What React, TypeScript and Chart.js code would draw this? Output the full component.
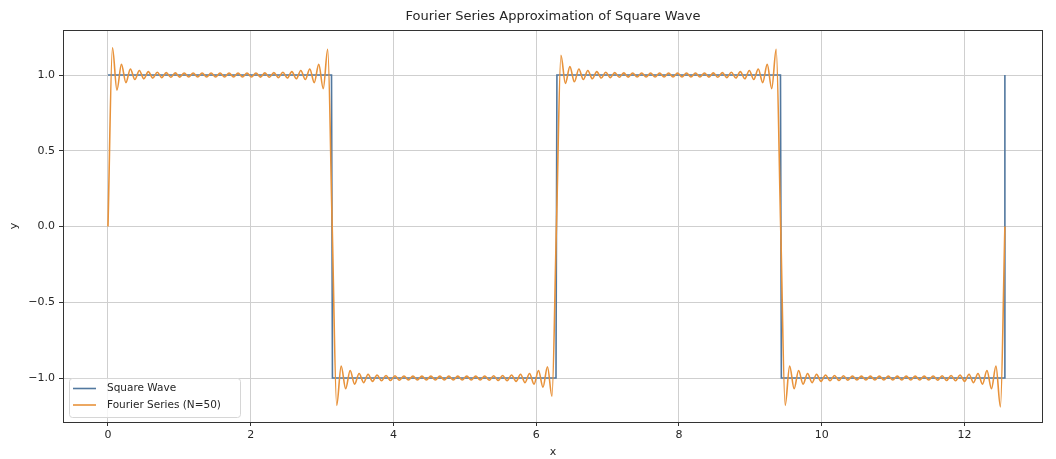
import React, { useEffect, useRef } from "react";
import { Chart, registerables } from "chart.js";

Chart.register(...registerables);

const TITLE = "Fourier Series Approximation of Square Wave";
const X_LABEL = "x";
const Y_LABEL = "y";
const SERIES_NAMES = ["Square Wave", "Fourier Series (N=50)"];
const X_TICKS = [0, 2, 4, 6, 8, 10, 12];
const Y_TICKS = [-1, -0.5, 0, 0.5, 1];
const X_MIN = -0.63;
const X_MAX = 13.1;
const Y_MIN = -1.29;
const Y_MAX = 1.297;

// Square wave: breakpoints
const squareX = [0, 3.132, 3.145, 6.277, 6.29, 9.422, 9.434, 12.554, 12.566];
const squareY = [1, 1, -1, -1, 1, 1, -1, -1, 1];

// Fourier series: ripple extrema, one sample every π/50
const FOURIER_STEP = Math.PI / 50;
const fourierSeg1 = [
  0, 1.18, 0.9, 1.07, 0.95, 1.04, 0.97, 1.03, 0.975, 1.022, 0.98, 1.018, 0.983, 1.016, 0.985, 1.014, 0.986,
  1.013, 0.987, 1.013, 0.987, 1.013, 0.987, 1.013, 0.987, 1.013, 0.987, 1.013, 0.987, 1.013, 0.987, 1.013,
  0.987, 1.013, 0.986, 1.014, 0.985, 1.016, 0.983, 1.018, 0.98, 1.022, 0.975, 1.03, 0.97, 1.04, 0.95, 1.07,
  0.91, 1.17, 0,
];
const fourierSeg2 = [
  -1.18, -0.92, -1.07, -0.95, -1.04, -0.97, -1.03, -0.975, -1.022, -0.98, -1.018, -0.983, -1.016, -0.985,
  -1.014, -0.986, -1.013, -0.987, -1.013, -0.987, -1.013, -0.987, -1.013, -0.987, -1.013, -0.987, -1.013,
  -0.987, -1.013, -0.987, -1.013, -0.987, -1.013, -0.986, -1.014, -0.985, -1.016, -0.983, -1.018, -0.98,
  -1.022, -0.975, -1.03, -0.97, -1.04, -0.95, -1.06, -0.925, -1.12, 0,
];
const fourierSeg3 = [
  1.13, 0.945, 1.055, 0.955, 1.04, 0.97, 1.03, 0.975, 1.022, 0.98, 1.018, 0.983, 1.016, 0.985, 1.014, 0.986,
  1.013, 0.987, 1.013, 0.987, 1.013, 0.987, 1.013, 0.987, 1.013, 0.987, 1.013, 0.987, 1.013, 0.987, 1.013,
  0.987, 1.013, 0.986, 1.014, 0.985, 1.016, 0.983, 1.018, 0.98, 1.022, 0.975, 1.03, 0.97, 1.04, 0.95, 1.07,
  0.91, 1.17, 0,
];
const fourierSeg4 = [
  -1.18, -0.92, -1.07, -0.95, -1.04, -0.97, -1.03, -0.975, -1.022, -0.98, -1.018, -0.983, -1.016, -0.985,
  -1.014, -0.986, -1.013, -0.987, -1.013, -0.987, -1.013, -0.987, -1.013, -0.987, -1.013, -0.987, -1.013,
  -0.987, -1.013, -0.987, -1.013, -0.987, -1.013, -0.986, -1.014, -0.985, -1.016, -0.983, -1.018, -0.98,
  -1.022, -0.975, -1.03, -0.97, -1.04, -0.95, -1.07, -0.92, -1.19, 0,
];
const fourierY = [...fourierSeg1, ...fourierSeg2, ...fourierSeg3, ...fourierSeg4];

const COLORS = ["#52789f", "#e8923a"];
const FONT = '"DejaVu Sans", sans-serif';
const TEXT = "#262626";

const decorPlugin = {
  id: "decor",
  afterDraw(chart: any) {
    const { ctx, chartArea } = chart;
    const { left, top, right, bottom } = chartArea;
    ctx.save();
    ctx.strokeStyle = "#333333";
    ctx.lineWidth = 1;
    ctx.strokeRect(Math.round(left) + 0.5, Math.round(top) + 0.5, Math.round(right - left) - 1, Math.round(bottom - top));
    ctx.fillStyle = TEXT;
    ctx.textAlign = "center";
    ctx.textBaseline = "middle";
    ctx.font = `13px ${FONT}`;
    ctx.fillText(TITLE, (left + right) / 2, 17);
    ctx.font = `11px ${FONT}`;
    ctx.fillText(X_LABEL, (left + right) / 2, 452);
    ctx.save();
    ctx.translate(14, (top + bottom) / 2);
    ctx.rotate(-Math.PI / 2);
    ctx.fillText(Y_LABEL, 0, 0);
    ctx.restore();
    const bx = left + 6;
    const by = bottom - 44;
    const bw = 171;
    const bh = 39;
    ctx.beginPath();
    (ctx as any).roundRect(bx + 0.5, by + 0.5, bw, bh, 3);
    ctx.fillStyle = "rgba(255,255,255,0.8)";
    ctx.fill();
    ctx.strokeStyle = "#d6d6d6";
    ctx.stroke();
    ctx.font = `10.5px ${FONT}`;
    ctx.textAlign = "left";
    SERIES_NAMES.forEach((name, i) => {
      const y = by + 10.5 + i * 16.5;
      ctx.strokeStyle = COLORS[i];
      ctx.lineWidth = 1.6;
      ctx.beginPath();
      ctx.moveTo(bx + 4, y);
      ctx.lineTo(bx + 27, y);
      ctx.stroke();
      ctx.fillStyle = TEXT;
      ctx.fillText(name, bx + 38, y);
    });
    ctx.restore();
  },
};

export default function App() {
  const ref = useRef<HTMLCanvasElement | null>(null);
  useEffect(() => {
    document.body.style.margin = "0";
    const canvas = ref.current;
    if (!canvas) return;
    const squareData = squareX.map((x, i) => ({ x, y: squareY[i] }));
    const fourierData = fourierY.map((y, i) => ({ x: i * FOURIER_STEP, y }));
    const tickFont = { family: FONT, size: 11 };
    const chart = new Chart(canvas, {
      type: "line",
      data: {
        datasets: [
          {
            label: SERIES_NAMES[0],
            data: squareData,
            borderColor: COLORS[0],
            borderWidth: 1.6,
            pointRadius: 0,
            tension: 0,
            order: 1,
          },
          {
            label: SERIES_NAMES[1],
            data: fourierData,
            borderColor: COLORS[1],
            borderWidth: 1.6,
            pointRadius: 0,
            cubicInterpolationMode: "monotone",
            order: 0,
          },
        ],
      },
      options: {
        animation: false,
        responsive: false,
        devicePixelRatio: 1,
        layout: { padding: { left: 0, right: 13, top: 30, bottom: 0 } },
        plugins: { legend: { display: false }, title: { display: false }, tooltip: { enabled: false } },
        scales: {
          x: {
            type: "linear",
            min: X_MIN,
            max: X_MAX,
            afterBuildTicks: (s: any) => {
              s.ticks = X_TICKS.map((v) => ({ value: v }));
            },
            afterFit: (s: any) => {
              s.height = 37;
            },
            ticks: {
              font: tickFont,
              color: TEXT,
              padding: 3,
              maxRotation: 0,
              autoSkip: false,
              callback: (v: any) => String(v),
            },
            grid: { color: "#cfcfcf", lineWidth: 1, tickLength: 4, tickColor: "#333333" },
            border: { display: false },
          },
          y: {
            type: "linear",
            min: Y_MIN,
            max: Y_MAX,
            afterBuildTicks: (s: any) => {
              s.ticks = Y_TICKS.map((v) => ({ value: v }));
            },
            afterFit: (s: any) => {
              s.width = 63;
            },
            ticks: {
              font: tickFont,
              color: TEXT,
              padding: 4,
              autoSkip: false,
              callback: (v: any) => Number(v).toFixed(1).replace("-", "\u2212"),
            },
            grid: { color: "#cfcfcf", lineWidth: 1, tickLength: 4, tickColor: "#333333" },
            border: { display: false },
          },
        },
      },
      plugins: [decorPlugin],
    } as any);
    return () => chart.destroy();
  }, []);
  return (
    <div style={{ width: 1056, height: 459, position: "relative" }}>
      <canvas ref={ref} width={1056} height={459} />
    </div>
  );
}
